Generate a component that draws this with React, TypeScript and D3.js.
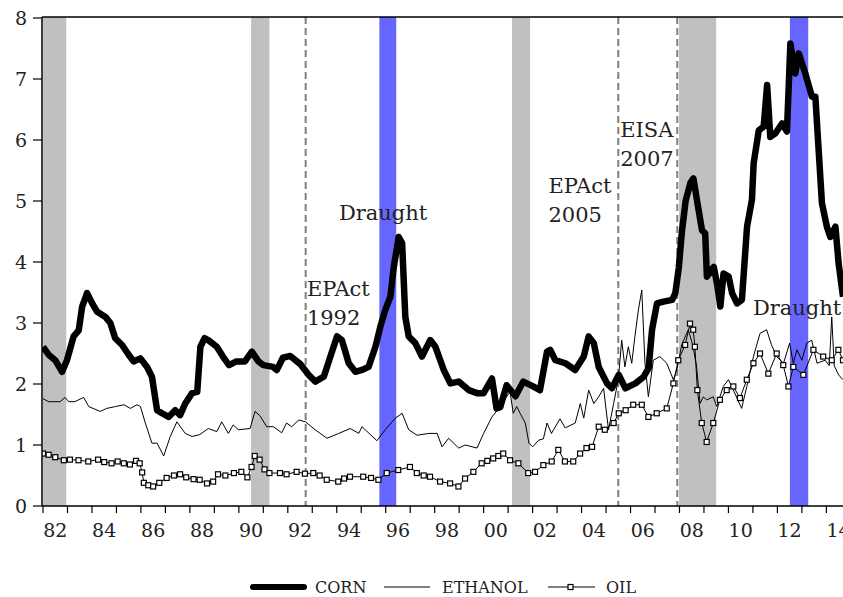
import React from "react";
import * as d3 from "d3";

// ---- Data (year fraction, value) ----
const CORN: [number, number][] = [
  [1982.0, 2.61], [1982.23, 2.48], [1982.5, 2.39], [1982.78, 2.2], [1982.98, 2.39],
  [1983.25, 2.78], [1983.46, 2.88], [1983.6, 3.27], [1983.8, 3.49], [1984.0, 3.33],
  [1984.2, 3.19], [1984.55, 3.1], [1984.75, 3.0], [1984.95, 2.75], [1985.23, 2.64],
  [1985.5, 2.48], [1985.7, 2.37], [1985.98, 2.42], [1986.25, 2.28], [1986.45, 2.12],
  [1986.66, 1.57], [1986.86, 1.52], [1987.13, 1.46], [1987.4, 1.57], [1987.6, 1.49],
  [1987.81, 1.68], [1988.09, 1.85], [1988.3, 1.87], [1988.43, 2.61], [1988.6, 2.75],
  [1988.75, 2.72], [1989.1, 2.61], [1989.35, 2.45], [1989.6, 2.31], [1989.9, 2.37],
  [1990.25, 2.37], [1990.53, 2.53], [1990.8, 2.37], [1991.0, 2.31], [1991.4, 2.28],
  [1991.55, 2.23], [1991.8, 2.43], [1992.1, 2.46], [1992.5, 2.33], [1992.85, 2.15],
  [1993.12, 2.04], [1993.47, 2.12], [1993.74, 2.45], [1994.01, 2.78], [1994.21, 2.72],
  [1994.49, 2.34], [1994.76, 2.2], [1995.03, 2.23], [1995.3, 2.28], [1995.58, 2.61],
  [1995.78, 2.94], [1995.98, 3.21], [1996.19, 3.43], [1996.33, 3.92], [1996.53, 4.41],
  [1996.67, 4.31], [1996.8, 3.1], [1996.94, 2.78], [1997.21, 2.67], [1997.48, 2.45],
  [1997.82, 2.72], [1998.03, 2.61], [1998.37, 2.23], [1998.64, 2.01], [1998.98, 2.04],
  [1999.39, 1.9], [1999.73, 1.85], [2000.0, 1.85], [2000.34, 2.09], [2000.53, 1.6],
  [2000.68, 1.62], [2000.94, 1.98], [2001.3, 1.8], [2001.62, 2.04], [2001.98, 1.97],
  [2002.3, 1.9], [2002.59, 2.53], [2002.72, 2.56], [2002.93, 2.39], [2003.34, 2.34],
  [2003.74, 2.23], [2004.09, 2.45], [2004.29, 2.78], [2004.5, 2.67], [2004.7, 2.28],
  [2005.04, 2.01], [2005.24, 1.93], [2005.52, 2.15], [2005.79, 1.93], [2006.2, 2.01],
  [2006.54, 2.12], [2006.74, 2.26], [2006.88, 2.89], [2007.08, 3.32], [2007.35, 3.35],
  [2007.7, 3.38], [2007.83, 3.49], [2007.97, 3.9], [2008.1, 4.5], [2008.25, 5.0],
  [2008.45, 5.3], [2008.57, 5.37], [2008.72, 5.0], [2008.92, 4.52], [2009.05, 4.47],
  [2009.12, 3.76], [2009.4, 3.92], [2009.53, 3.65], [2009.67, 3.27], [2009.8, 3.81],
  [2010.01, 3.76], [2010.15, 3.49], [2010.35, 3.32], [2010.55, 3.38], [2010.76, 4.58],
  [2010.96, 5.02], [2011.03, 5.62], [2011.24, 6.16], [2011.44, 6.22], [2011.58, 6.9],
  [2011.71, 6.05], [2011.92, 6.11], [2012.19, 6.27], [2012.39, 6.14], [2012.53, 7.58],
  [2012.73, 7.09], [2012.87, 7.42], [2013.14, 7.09], [2013.41, 6.71], [2013.55, 6.71],
  [2013.82, 4.96], [2014.02, 4.58], [2014.16, 4.41], [2014.37, 4.58], [2014.5, 3.98],
  [2014.68, 3.43],
];

const ETHANOL: [number, number][] = [
  [1982.0, 1.76], [1982.23, 1.71], [1982.7, 1.71], [1982.9, 1.78], [1983.05, 1.71],
  [1983.3, 1.71], [1983.66, 1.78], [1983.87, 1.63], [1984.34, 1.55], [1984.6, 1.6],
  [1984.96, 1.63], [1985.3, 1.66], [1985.57, 1.6], [1985.84, 1.66], [1985.98, 1.63],
  [1986.18, 1.36], [1986.45, 1.03], [1986.66, 1.03], [1986.93, 0.82], [1987.2, 1.14],
  [1987.47, 1.38], [1987.81, 1.19], [1988.09, 1.14], [1988.4, 1.17], [1988.75, 1.27],
  [1989.1, 1.22], [1989.3, 1.38], [1989.57, 1.19], [1989.77, 1.33], [1989.98, 1.25],
  [1990.46, 1.27], [1990.66, 1.55], [1990.86, 1.48], [1991.14, 1.3], [1991.41, 1.3],
  [1991.75, 1.2], [1991.95, 1.36], [1992.16, 1.3], [1992.45, 1.41], [1992.72, 1.38],
  [1993.12, 1.25], [1993.6, 1.11], [1994.08, 1.19], [1994.55, 1.27], [1994.9, 1.19],
  [1995.03, 1.3], [1995.64, 1.07], [1995.98, 1.25], [1996.39, 1.44], [1996.67, 1.52],
  [1996.94, 1.25], [1997.28, 1.16], [1997.76, 1.19], [1998.1, 1.19], [1998.3, 0.97],
  [1998.57, 1.11], [1998.98, 0.95], [1999.25, 1.0], [1999.73, 0.95], [2000.0, 1.19],
  [2000.34, 1.46], [2000.68, 1.63], [2000.95, 1.8], [2001.08, 1.87], [2001.21, 1.52],
  [2001.35, 1.63], [2001.49, 1.52], [2001.7, 1.36], [2001.85, 1.03], [2002.0, 0.97],
  [2002.25, 1.08], [2002.44, 1.1], [2002.59, 1.36], [2002.77, 1.19], [2003.12, 1.43],
  [2003.33, 1.28], [2003.74, 1.36], [2003.95, 1.68], [2004.09, 1.44], [2004.29, 1.9],
  [2004.5, 1.68], [2004.7, 1.79], [2004.9, 1.93], [2005.1, 1.25], [2005.31, 1.68],
  [2005.5, 2.07], [2005.64, 2.72], [2005.77, 2.28], [2005.91, 2.61], [2006.05, 2.34],
  [2006.18, 2.78], [2006.32, 3.21], [2006.46, 3.54], [2006.59, 2.34], [2006.73, 1.79],
  [2006.93, 2.39], [2007.2, 2.45], [2007.48, 2.34], [2007.75, 2.07], [2007.89, 2.23],
  [2008.09, 2.64], [2008.36, 2.89], [2008.56, 2.61], [2008.7, 2.28], [2008.84, 1.68],
  [2008.97, 1.79], [2009.11, 1.74], [2009.38, 1.79], [2009.52, 1.63], [2009.79, 1.96],
  [2010.0, 2.07], [2010.2, 1.9], [2010.54, 1.6], [2010.75, 1.96], [2011.02, 2.45],
  [2011.29, 2.83], [2011.56, 2.89], [2011.75, 2.65], [2011.97, 2.45], [2012.25, 2.34],
  [2012.5, 2.67], [2012.65, 2.34], [2012.8, 2.56], [2013.0, 2.39], [2013.2, 2.67],
  [2013.4, 2.72], [2013.62, 2.34], [2013.95, 2.39], [2014.12, 2.3], [2014.22, 3.1],
  [2014.32, 2.3], [2014.5, 2.15], [2014.68, 2.07],
];

const OIL: [number, number][] = [
  [1982.0, 0.86], [1982.23, 0.84], [1982.5, 0.8], [1982.85, 0.75], [1983.1, 0.76],
  [1983.45, 0.75], [1983.85, 0.73], [1984.25, 0.76], [1984.5, 0.72], [1984.8, 0.7],
  [1985.05, 0.73], [1985.3, 0.7], [1985.55, 0.68], [1985.8, 0.74], [1985.95, 0.7],
  [1986.05, 0.55], [1986.12, 0.38], [1986.3, 0.34], [1986.5, 0.32], [1986.75, 0.38],
  [1987.05, 0.46], [1987.35, 0.5], [1987.6, 0.52], [1987.85, 0.47], [1988.15, 0.44],
  [1988.4, 0.43], [1988.7, 0.37], [1988.95, 0.4], [1989.15, 0.52], [1989.45, 0.5],
  [1989.8, 0.54], [1990.1, 0.56], [1990.35, 0.47], [1990.52, 0.64], [1990.65, 0.82],
  [1990.85, 0.76], [1991.05, 0.6], [1991.25, 0.54], [1991.68, 0.54], [1991.95, 0.52],
  [1992.36, 0.56], [1992.7, 0.53], [1993.04, 0.54], [1993.3, 0.5], [1993.59, 0.43],
  [1994.06, 0.4], [1994.3, 0.45], [1994.54, 0.48], [1995.08, 0.48], [1995.4, 0.46],
  [1995.7, 0.43], [1996.04, 0.54], [1996.51, 0.59], [1996.99, 0.64], [1997.27, 0.54],
  [1997.55, 0.5], [1997.81, 0.48], [1998.22, 0.4], [1998.63, 0.37], [1998.97, 0.32],
  [1999.24, 0.45], [1999.58, 0.56], [1999.92, 0.7], [2000.15, 0.74], [2000.39, 0.78],
  [2000.6, 0.82], [2000.8, 0.86], [2001.08, 0.75], [2001.42, 0.7], [2001.82, 0.54],
  [2002.1, 0.56], [2002.44, 0.67], [2002.78, 0.73], [2003.05, 0.92], [2003.32, 0.73],
  [2003.66, 0.73], [2003.94, 0.86], [2004.2, 0.95], [2004.43, 0.97], [2004.7, 1.3],
  [2004.95, 1.25], [2005.31, 1.36], [2005.52, 1.52], [2005.8, 1.57], [2006.11, 1.66],
  [2006.46, 1.66], [2006.73, 1.46], [2007.07, 1.52], [2007.48, 1.6], [2007.75, 2.01],
  [2007.95, 2.39], [2008.23, 2.64], [2008.43, 2.99], [2008.56, 2.89], [2008.63, 2.61],
  [2008.73, 1.9], [2008.91, 1.36], [2009.11, 1.05], [2009.38, 1.36], [2009.65, 1.74],
  [2009.93, 1.9], [2010.2, 1.96], [2010.47, 1.77], [2010.75, 2.07], [2011.02, 2.34],
  [2011.29, 2.5], [2011.63, 2.17], [2011.97, 2.5], [2012.24, 2.31], [2012.45, 1.96],
  [2012.65, 2.28], [2013.06, 2.15], [2013.47, 2.56], [2013.87, 2.45], [2014.22, 2.39],
  [2014.49, 2.56], [2014.68, 2.39],
];

const RECESSIONS: [number, number][] = [
  [1982.0, 1982.95], [1990.5, 1991.25], [2001.16, 2001.9], [2007.98, 2009.5],
];
const DROUGHTS: [number, number][] = [
  [1995.74, 1996.43], [2012.51, 2013.26],
];
const POLICY_LINES: number[] = [1992.73, 2005.5, 2007.91];

const Y_TICKS: number[] = [0, 1, 2, 3, 4, 5, 6, 7, 8];
const X_LABEL_YEARS: number[] = [1982, 1984, 1986, 1988, 1990, 1992, 1994, 1996, 1998, 2000, 2002, 2004, 2006, 2008, 2010, 2012, 2014];
const X_TICK_YEARS: number[] = d3.range(1982, 2016);

const ANNOTATIONS: { lines: string[]; year: number; value: number }[] = [
  { lines: ["Draught"], year: 1994.09, value: 4.69 },
  { lines: ["EPAct", "1992"], year: 1992.78, value: 3.44 },
  { lines: ["EPAct", "2005"], year: 2002.65, value: 5.13 },
  { lines: ["EISA", "2007"], year: 2005.58, value: 6.05 },
  { lines: ["Draught"], year: 2011.0, value: 3.13 },
];

const W = 843;
const H = 597;
const SERIF = "'DejaVu Serif', serif";

export default function App() {
  const x = d3.scaleLinear().domain([1982, 2015]).range([43, 43 + 33 * 24.48]);
  const y = d3.scaleLinear().domain([0, 8]).range([506, 18]);
  const line = d3
    .line<[number, number]>()
    .x((d) => x(d[0]))
    .y((d) => y(d[1]));

  const left = 42;
  const top = 17;
  const bottom = 506;
  const right = W + 10;

  return (
    <svg
      width={W}
      height={H}
      style={{ position: "absolute", left: 0, top: 0, background: "#fff" }}
      fontFamily={SERIF}
    >
      <defs>
        <clipPath id="plot">
          <rect x={left} y={top} width={right - left} height={bottom - top} />
        </clipPath>
      </defs>
      <rect x={0} y={0} width={W} height={H} fill="#fff" />
      <g clipPath="url(#plot)">
        {RECESSIONS.map(([a, b], i) => (
          <rect key={"r" + i} x={x(a)} y={top} width={x(b) - x(a)} height={bottom - top} fill="#c0c0c0" />
        ))}
        {DROUGHTS.map(([a, b], i) => (
          <rect key={"d" + i} x={x(a)} y={top} width={x(b) - x(a)} height={bottom - top} fill="#6666ff" />
        ))}
        {POLICY_LINES.map((p, i) => (
          <line key={"p" + i} x1={x(p)} x2={x(p)} y1={top} y2={bottom} stroke="#7f7f7f" strokeWidth={2} strokeDasharray="7 4" />
        ))}
        <path d={line(ETHANOL) || ""} fill="none" stroke="#000" strokeWidth={1} />
        <path d={line(OIL) || ""} fill="none" stroke="#000" strokeWidth={1} />
        {OIL.map((d, i) => (
          <rect key={"o" + i} x={x(d[0]) - 2.5} y={y(d[1]) - 2.5} width={5} height={5} fill="#fff" stroke="#000" strokeWidth={1.2} />
        ))}
        <path d={line(CORN) || ""} fill="none" stroke="#000" strokeWidth={6.5} strokeLinejoin="round" />
      </g>

      {/* frame */}
      <line x1={left} x2={right} y1={top} y2={top} stroke="#000" strokeWidth={1.5} />
      <line x1={left} x2={left} y1={top} y2={bottom} stroke="#000" strokeWidth={1.5} />
      <line x1={left} x2={right} y1={bottom} y2={bottom} stroke="#000" strokeWidth={1.5} />

      {/* y axis */}
      {Y_TICKS.map((t) => (
        <g key={"yt" + t}>
          <line x1={left - 9} x2={left} y1={y(t)} y2={y(t)} stroke="#000" strokeWidth={1.2} />
          <text x={27} y={y(t) + 7} textAnchor="end" fontSize={19} fill="#222">
            {t}
          </text>
        </g>
      ))}

      {/* x axis */}
      {X_TICK_YEARS.map((t) => (
        <line key={"xt" + t} x1={x(t)} x2={x(t)} y1={bottom} y2={bottom + 7} stroke="#000" strokeWidth={1.2} />
      ))}
      {X_LABEL_YEARS.map((t) => (
        <text key={"xl" + t} x={x(t + 0.5)} y={537} textAnchor="middle" fontSize={19} fill="#222">
          {String(t % 100).padStart(2, "0")}
        </text>
      ))}

      {/* annotations */}
      {ANNOTATIONS.map((a, i) => (
        <text key={"a" + i} x={x(a.year)} y={y(a.value)} fontSize={21} fill="#222">
          {a.lines.map((l, j) => (
            <tspan key={j} x={x(a.year)} dy={j === 0 ? 0 : 29}>
              {l}
            </tspan>
          ))}
        </text>
      ))}

      {/* legend */}
      <g fontSize={16} fill="#222">
        <line x1={253} x2={304} y1={587} y2={587} stroke="#000" strokeWidth={6} strokeLinecap="round" />
        <text x={315} y={593}>CORN</text>
        <line x1={384} x2={430} y1={587} y2={587} stroke="#000" strokeWidth={1} />
        <text x={442} y={593}>ETHANOL</text>
        <line x1={548} x2={595} y1={587} y2={587} stroke="#000" strokeWidth={1} />
        <rect x={568} y={584.5} width={5} height={5} fill="#fff" stroke="#000" strokeWidth={1.2} />
        <text x={606} y={593}>OIL</text>
      </g>
    </svg>
  );
}
